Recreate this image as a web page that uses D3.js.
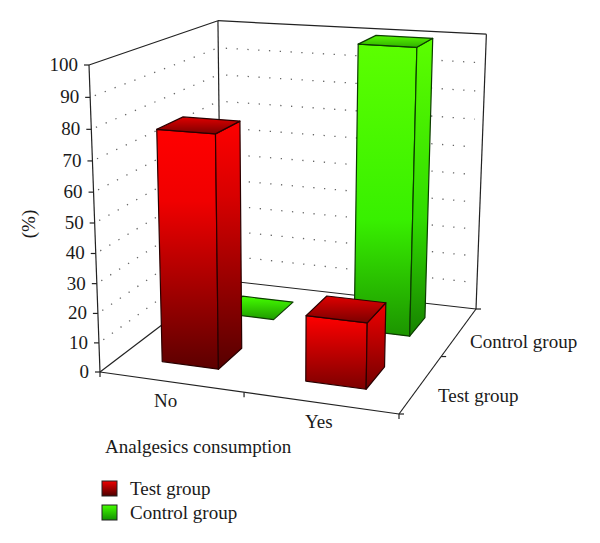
<!DOCTYPE html>
<html>
<head>
<meta charset="utf-8">
<script src="https://cdn.jsdelivr.net/npm/d3@7"></script>
<style>
body { margin: 0; background: #fff; }
text { font-family: "Liberation Serif", serif; font-size: 19px; fill: #1a1a1a; }
</style>
</head>
<body>
<svg width="600" height="543"></svg>
<script>
var categories = ["No", "Yes"];
var seriesNames = ["Test group", "Control group"];
var testValues = [78, 22];
var controlValues = [0, 100];
var percentTicks = [0, 10, 20, 30, 40, 50, 60, 70, 80, 90, 100];

var svg = d3.select("svg");

// three scales go to the unit cube, project() takes the cube to the screen
var xScale = d3.scaleBand().domain(categories).range([0, 1]).paddingInner(0.6).paddingOuter(0.3);
var zScale = d3.scaleBand().domain(seriesNames).range([0, 1]).paddingInner(0.6).paddingOuter(0.3);
var yScale = d3.scaleLinear().domain([0, 100]).range([0, 1]);

// perspective fitted on the corners of the box in the picture
var O = [100, 372], X = [399, 414], Z = [221, 280], XZ = [476, 309], Y = [89, 65];
function det(p, q) { return p[0] * q[1] - p[1] * q[0]; }
var dx1 = [X[0] - XZ[0], X[1] - XZ[1]];
var dx2 = [Z[0] - XZ[0], Z[1] - XZ[1]];
var sum = [O[0] - X[0] + XZ[0] - Z[0], O[1] - X[1] + XZ[1] - Z[1]];
var gx = det(sum, dx2) / det(dx1, dx2);
var gz = det(dx1, sum) / det(dx1, dx2);
var gy = -0.057;

function project(u, v, w) {
    var d = gx * u + gz * w + gy * v + 1;
    return [0, 1].map(function(i) {
        return ((X[i] * (1 + gx) - O[i]) * u + (Y[i] * (1 + gy) - O[i]) * v + (Z[i] * (1 + gz) - O[i]) * w + O[i]) / d;
    });
}

var lineGen = d3.line();

function addGradient(id, stops) {
    var grad = svg.append("defs").append("linearGradient")
        .attr("id", id)
        .attr("x1", 0).attr("y1", 0).attr("x2", 0).attr("y2", 1);
    stops.forEach(function(s) {
        grad.append("stop").attr("offset", s[0]).attr("stop-color", s[1]);
    });
}

addGradient("redFront", [[0, "#ff0000"], [0.3, "#f00000"], [1, "#5c0000"]]);
addGradient("redSide", [[0, "#ff0000"], [0.3, "#d80000"], [1, "#560000"]]);
addGradient("redTop", [[0, "#e00000"], [1, "#7a0000"]]);
addGradient("redShort", [[0, "#ff0000"], [1, "#7c0000"]]);
addGradient("redShortSide", [[0, "#f00000"], [1, "#720000"]]);
addGradient("greenFront", [[0, "#5cff00"], [0.6, "#38f000"], [1, "#1c9400"]]);
addGradient("greenSide", [[0, "#5cff00"], [0.6, "#30dc00"], [1, "#178200"]]);
addGradient("greenTop", [[0, "#58f800"], [1, "#30b000"]]);
addGradient("greenFlat", [[0, "#44ff00"], [1, "#1f9a00"]]);
addGradient("redLegend", [[0, "#f00000"], [1, "#4c0000"]]);
addGradient("greenLegend", [[0, "#44ff00"], [1, "#129000"]]);

// walls and floor
var box = svg.append("g").attr("fill", "none").attr("stroke", "#222").attr("stroke-width", 1.2);
var boxLines = [
    [[0, 0, 0], [0, 1, 0]],
    [[0, 1, 0], [0, 1, 1]],
    [[0, 0, 1], [0, 1, 1]],
    [[0, 1, 1], [1, 1, 1]],
    [[1, 0, 1], [1, 1, 1]],
    [[0, 0, 0], [0, 0, 1]],
    [[0, 0, 1], [1, 0, 1]],
    [[0, 0, 0], [1, 0, 0]],
    [[1, 0, 0], [1, 0, 1]]
];
box.selectAll("path").data(boxLines).enter().append("path")
    .attr("d", function(d) {
        return lineGen(d.map(function(p) { return project(p[0], p[1], p[2]); }));
    });

// dotted grid on the two walls
var gridTicks = percentTicks.slice(1, -1);
var grid = svg.append("g").attr("fill", "none").attr("stroke", "#666").attr("stroke-width", 1.3);
grid.selectAll(".left").data(gridTicks).enter().append("path")
    .attr("class", "left")
    .attr("stroke-dasharray", "1.3 9.3")
    .attr("d", function(d) {
        return lineGen([project(0, yScale(d), 0.03), project(0, yScale(d), 0.97)]);
    });
grid.selectAll(".back").data(gridTicks).enter().append("path")
    .attr("class", "back")
    .attr("stroke-dasharray", "1.3 9.5")
    .attr("d", function(d) {
        return lineGen([project(0.03, yScale(d), 1), project(0.97, yScale(d), 1)]);
    });

// value axis
var axis = svg.append("g");
axis.selectAll("line").data(percentTicks).enter().append("line")
    .attr("stroke", "#222")
    .attr("stroke-width", 1.2)
    .attr("x1", function(d) { return project(0, yScale(d), 0)[0] - 5; })
    .attr("x2", function(d) { return project(0, yScale(d), 0)[0]; })
    .attr("y1", function(d) { return project(0, yScale(d), 0)[1]; })
    .attr("y2", function(d) { return project(0, yScale(d), 0)[1]; });
axis.selectAll("text").data(percentTicks).enter().append("text")
    .attr("text-anchor", "end")
    .attr("x", function(d) { return project(0, yScale(d), 0)[0] - 11; })
    .attr("y", function(d) { return project(0, yScale(d), 0)[1] + 6; })
    .text(function(d) { return d; });

// floor ticks
var floorTicks = [[[0, 0, 0], 0, 5], [[0.5, 0, 0], 0, 5], [[1, 0, 0], 0, 5], [[1, 0, 0], 5, 0], [[1, 0, 0.5], 5, 0], [[1, 0, 1], 5, 0]];
svg.append("g").selectAll("line").data(floorTicks).enter().append("line")
    .attr("stroke", "#222")
    .attr("stroke-width", 1.2)
    .attr("x1", function(d) { return project(d[0][0], d[0][1], d[0][2])[0]; })
    .attr("y1", function(d) { return project(d[0][0], d[0][1], d[0][2])[1]; })
    .attr("x2", function(d) { return project(d[0][0], d[0][1], d[0][2])[0] + d[1]; })
    .attr("y2", function(d) { return project(d[0][0], d[0][1], d[0][2])[1] + d[2]; });

// bars, back row first so the front row paints over it
function drawBar(category, series, value, fills) {
    var x0 = xScale(category), x1 = x0 + xScale.bandwidth();
    var z0 = zScale(series), z1 = z0 + zScale.bandwidth();
    var h = yScale(value);
    var faces = [];
    if (value > 0) {
        faces.push([fills.front, [[x0, 0, z0], [x1, 0, z0], [x1, h, z0], [x0, h, z0]]]);
        faces.push([fills.side, [[x1, 0, z0], [x1, 0, z1], [x1, h, z1], [x1, h, z0]]]);
    }
    faces.push([fills.top, [[x0, h, z0], [x1, h, z0], [x1, h, z1], [x0, h, z1]]]);
    svg.append("g").selectAll("path").data(faces).enter().append("path")
        .attr("fill", function(d) { return "url(#" + d[0] + ")"; })
        .attr("stroke", fills.stroke)
        .attr("stroke-width", 1.2)
        .attr("stroke-linejoin", "round")
        .attr("d", function(d) {
            return lineGen(d[1].map(function(p) { return project(p[0], p[1], p[2]); })) + "Z";
        });
}

var tallRed = { front: "redFront", side: "redSide", top: "redTop", stroke: "#2a0000" };
var shortRed = { front: "redShort", side: "redShortSide", top: "redTop", stroke: "#2a0000" };
var tallGreen = { front: "greenFront", side: "greenSide", top: "greenTop", stroke: "#0c3c00" };
var flatGreen = { front: "greenFront", side: "greenSide", top: "greenFlat", stroke: "#0c3c00" };

drawBar(categories[0], seriesNames[1], controlValues[0], flatGreen);
drawBar(categories[1], seriesNames[1], controlValues[1], tallGreen);
drawBar(categories[0], seriesNames[0], testValues[0], tallRed);
drawBar(categories[1], seriesNames[0], testValues[1], shortRed);

// labels
svg.append("text").attr("x", 154).attr("y", 407).text(categories[0]);
svg.append("text").attr("x", 305).attr("y", 428).text(categories[1]);
svg.append("text").attr("x", 470).attr("y", 348).text(seriesNames[1]);
svg.append("text").attr("x", 438).attr("y", 402).text(seriesNames[0]);
svg.append("text").attr("x", 105).attr("y", 453).text("Analgesics consumption");
svg.append("text")
    .attr("transform", "translate(35,224) rotate(-90)")
    .attr("text-anchor", "middle")
    .text("(%)");

// legend
var legendFills = ["redLegend", "greenLegend"];
var legend = svg.append("g").selectAll("g").data(seriesNames).enter().append("g")
    .attr("transform", function(d, i) { return "translate(102," + (481 + i * 24) + ")"; });
legend.append("rect")
    .attr("width", 15)
    .attr("height", 15)
    .attr("stroke", "#222")
    .attr("fill", function(d, i) { return "url(#" + legendFills[i] + ")"; });
legend.append("text")
    .attr("x", 28)
    .attr("y", 14)
    .text(function(d) { return d; });
</script>
</body>
</html>
